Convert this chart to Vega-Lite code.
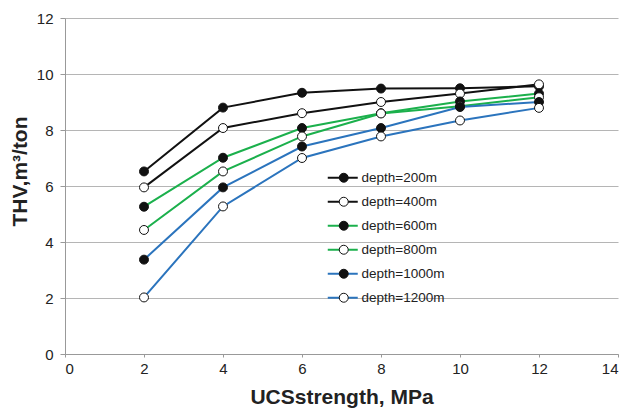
{
  "$schema": "https://vega.github.io/schema/vega-lite/v6.json",
  "width": 553,
  "height": 336,
  "autosize": {"type": "none"},
  "padding": {"left": 65, "top": 18, "right": 12, "bottom": 56},
  "background": "white",
  "data": {
    "values": [
      {"ucs": 2, "thv": 6.52, "depth": "depth=200m"},
      {"ucs": 4, "thv": 8.8, "depth": "depth=200m"},
      {"ucs": 6, "thv": 9.33, "depth": "depth=200m"},
      {"ucs": 8, "thv": 9.48, "depth": "depth=200m"},
      {"ucs": 10, "thv": 9.49, "depth": "depth=200m"},
      {"ucs": 12, "thv": 9.56, "depth": "depth=200m"},
      {"ucs": 2, "thv": 5.95, "depth": "depth=400m"},
      {"ucs": 4, "thv": 8.07, "depth": "depth=400m"},
      {"ucs": 6, "thv": 8.6, "depth": "depth=400m"},
      {"ucs": 8, "thv": 9.0, "depth": "depth=400m"},
      {"ucs": 10, "thv": 9.3, "depth": "depth=400m"},
      {"ucs": 12, "thv": 9.63, "depth": "depth=400m"},
      {"ucs": 2, "thv": 5.26, "depth": "depth=600m"},
      {"ucs": 4, "thv": 7.01, "depth": "depth=600m"},
      {"ucs": 6, "thv": 8.07, "depth": "depth=600m"},
      {"ucs": 8, "thv": 8.6, "depth": "depth=600m"},
      {"ucs": 10, "thv": 9.02, "depth": "depth=600m"},
      {"ucs": 12, "thv": 9.3, "depth": "depth=600m"},
      {"ucs": 2, "thv": 4.43, "depth": "depth=800m"},
      {"ucs": 4, "thv": 6.52, "depth": "depth=800m"},
      {"ucs": 6, "thv": 7.77, "depth": "depth=800m"},
      {"ucs": 8, "thv": 8.59, "depth": "depth=800m"},
      {"ucs": 10, "thv": 8.85, "depth": "depth=800m"},
      {"ucs": 12, "thv": 9.17, "depth": "depth=800m"},
      {"ucs": 2, "thv": 3.37, "depth": "depth=1000m"},
      {"ucs": 4, "thv": 5.95, "depth": "depth=1000m"},
      {"ucs": 6, "thv": 7.41, "depth": "depth=1000m"},
      {"ucs": 8, "thv": 8.07, "depth": "depth=1000m"},
      {"ucs": 10, "thv": 8.82, "depth": "depth=1000m"},
      {"ucs": 12, "thv": 9.0, "depth": "depth=1000m"},
      {"ucs": 2, "thv": 2.02, "depth": "depth=1200m"},
      {"ucs": 4, "thv": 5.27, "depth": "depth=1200m"},
      {"ucs": 6, "thv": 7.0, "depth": "depth=1200m"},
      {"ucs": 8, "thv": 7.77, "depth": "depth=1200m"},
      {"ucs": 10, "thv": 8.34, "depth": "depth=1200m"},
      {"ucs": 12, "thv": 8.79, "depth": "depth=1200m"}
    ]
  },
  "encoding": {
    "x": {
      "field": "ucs",
      "type": "quantitative",
      "scale": {"domain": [0, 14], "nice": false, "zero": true},
      "axis": {
        "title": "UCSstrength, MPa",
        "values": [0, 2, 4, 6, 8, 10, 12, 14],
        "grid": false,
        "tickSize": 3,
        "labelPadding": 4,
        "titlePadding": 10
      }
    },
    "y": {
      "field": "thv",
      "type": "quantitative",
      "scale": {"domain": [0, 12], "nice": false},
      "axis": {
        "title": "THV,m³/ton",
        "values": [0, 2, 4, 6, 8, 10, 12],
        "grid": true,
        "tickSize": 5,
        "labelPadding": 7,
        "titlePadding": 6,
        "titleY": 153
      }
    }
  },
  "layer": [
    {
      "mark": {"type": "line", "strokeWidth": 2},
      "encoding": {
        "stroke": {
          "field": "depth",
          "type": "nominal",
          "scale": {
            "domain": ["depth=200m", "depth=400m", "depth=600m", "depth=800m", "depth=1000m", "depth=1200m"],
            "range": ["#111111", "#111111", "#1bb04c", "#1bb04c", "#2b74bd", "#2b74bd"]
          },
          "legend": {
            "title": null,
            "orient": "none",
            "legendX": 271,
            "legendY": 153,
            "symbolType": "M-3,0H3",
            "symbolSize": 100,
            "symbolStrokeWidth": 2,
            "labelOffset": 12,
            "labelFontSize": 13.5,
            "labelColor": "#222222",
            "rowPadding": 9
          }
        }
      }
    },
    {
      "mark": {"type": "point", "shape": "circle", "filled": true, "size": 80, "stroke": "#111111", "strokeWidth": 1, "opacity": 1},
      "encoding": {
        "fill": {
          "field": "depth",
          "type": "nominal",
          "scale": {
            "domain": ["depth=200m", "depth=400m", "depth=600m", "depth=800m", "depth=1000m", "depth=1200m"],
            "range": ["#111111", "#ffffff", "#111111", "#ffffff", "#111111", "#ffffff"]
          },
          "legend": {
            "title": null,
            "orient": "none",
            "legendX": 272,
            "legendY": 153,
            "symbolType": "circle",
            "symbolSize": 80,
            "symbolStrokeColor": "#111111",
            "symbolStrokeWidth": 1,
            "symbolOpacity": 1,
            "labelExpr": "''",
            "labelFontSize": 13.5,
            "rowPadding": 9
          }
        }
      }
    }
  ],
  "resolve": {"legend": {"stroke": "independent", "fill": "independent"}},
  "config": {
    "font": "Liberation Sans",
    "view": {"stroke": null},
    "axis": {
      "domainColor": "#999999",
      "tickColor": "#999999",
      "gridColor": "#b5b5b5",
      "labelFontSize": 15,
      "labelColor": "#222222",
      "titleFontSize": 21,
      "titleFontWeight": "bold",
      "titleColor": "#222222"
    }
  }
}
